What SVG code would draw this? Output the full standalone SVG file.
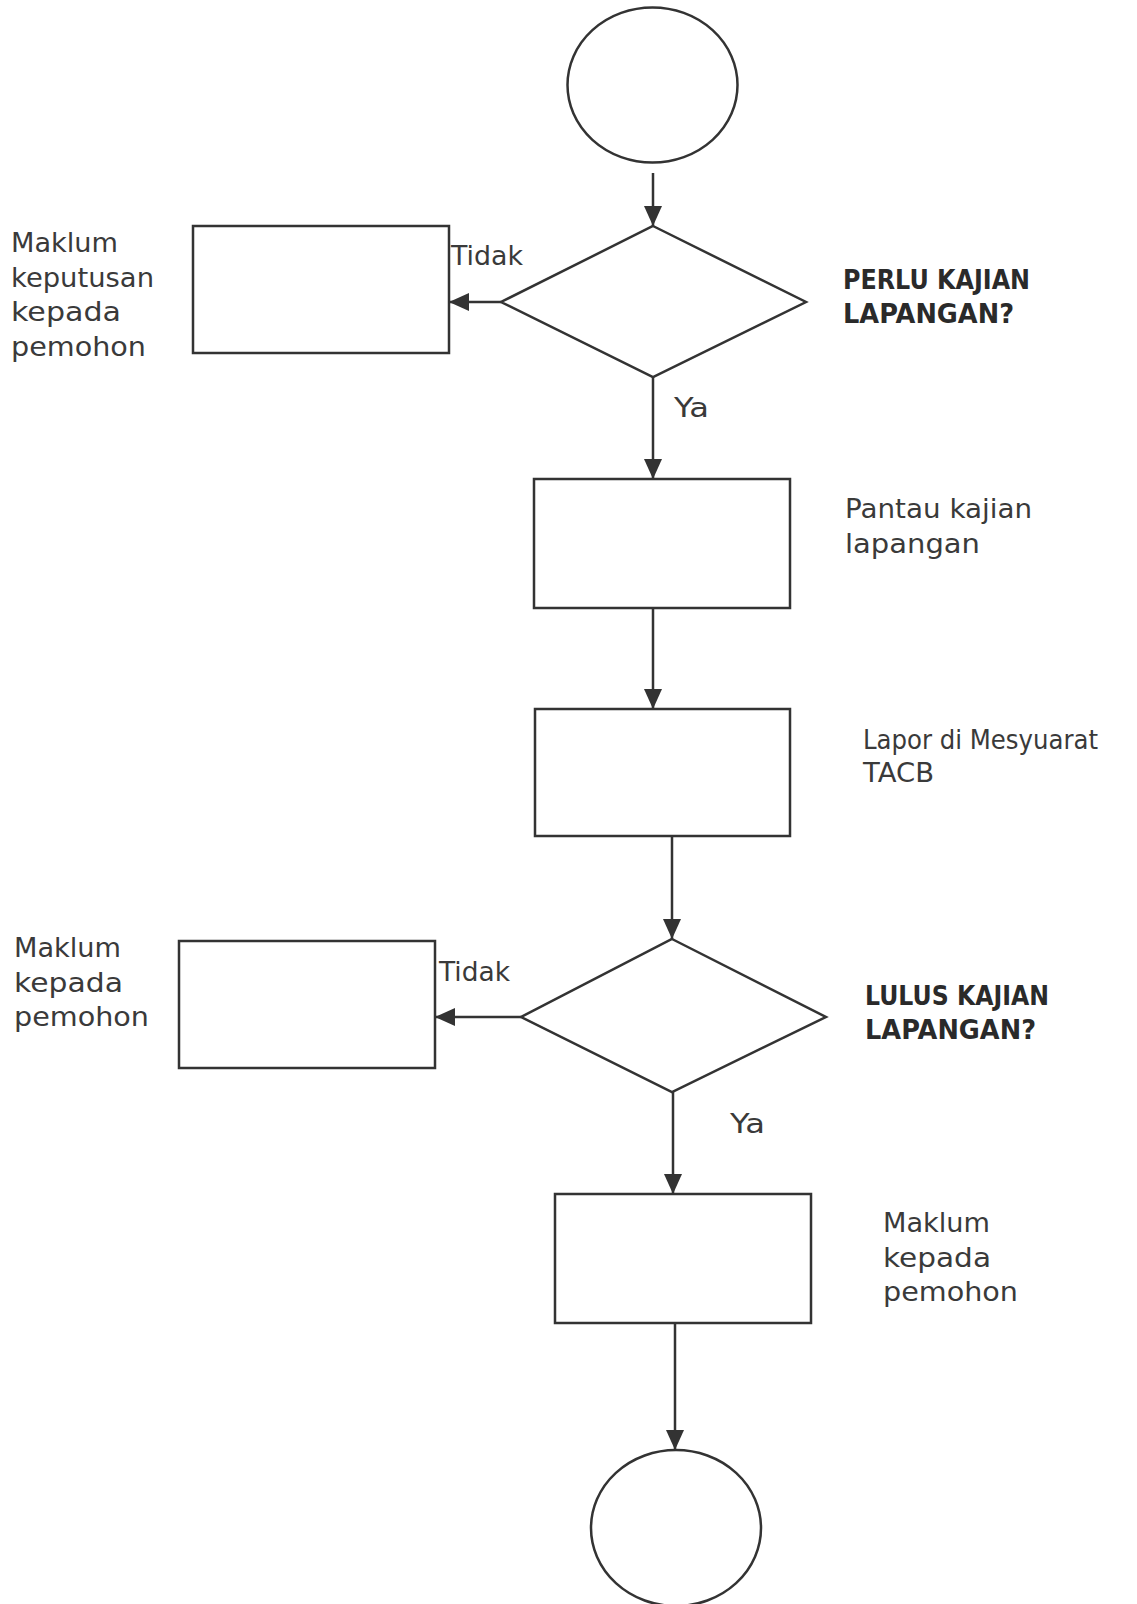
<svg xmlns="http://www.w3.org/2000/svg" width="1137" height="1604" viewBox="0 0 1137 1604">
  <style>
    .shape { fill: #ffffff; stroke: #333333; stroke-width: 2.5; }
    .conn { fill: none; stroke: #333333; stroke-width: 2.5; }
    .lbl { font-family: "DejaVu Sans", "Liberation Sans", sans-serif; font-size: 27px; fill: #3a3a3a; }
    .q { font-family: "DejaVu Sans", "Liberation Sans", sans-serif; font-size: 26px; font-weight: bold; fill: #2a2a2a; }
  </style>
  <defs>
    <marker id="arrow" markerUnits="userSpaceOnUse" markerWidth="20" markerHeight="18" refX="20" refY="9" orient="auto">
      <path d="M0,0 L20,9 L0,18 Z" fill="#333333"/>
    </marker>
  </defs>
  <rect width="1137" height="1604" fill="#ffffff"/>

  <g id="start">
    <ellipse class="shape" cx="652.5" cy="85" rx="85" ry="77.5"/>
  </g>

  <g id="decision1">
    <polygon class="shape" points="653,226 806,302 653,377 501,302"/>
    <text class="q" x="843" y="289" textLength="187" lengthAdjust="spacingAndGlyphs">PERLU KAJIAN</text>
    <text class="q" x="843" y="323" textLength="171" lengthAdjust="spacingAndGlyphs">LAPANGAN?</text>
  </g>

  <g id="notify1">
    <rect class="shape" x="193" y="226" width="256" height="127"/>
    <text class="lbl" x="11" y="252" textLength="107" lengthAdjust="spacingAndGlyphs">Maklum</text>
    <text class="lbl" x="11" y="287" textLength="143" lengthAdjust="spacingAndGlyphs">keputusan</text>
    <text class="lbl" x="11" y="321" textLength="110" lengthAdjust="spacingAndGlyphs">kepada</text>
    <text class="lbl" x="11" y="356" textLength="135" lengthAdjust="spacingAndGlyphs">pemohon</text>
  </g>

  <g id="monitor">
    <rect class="shape" x="534" y="479" width="256" height="129"/>
    <text class="lbl" x="845" y="518" textLength="187" lengthAdjust="spacingAndGlyphs">Pantau kajian</text>
    <text class="lbl" x="845" y="553" textLength="135" lengthAdjust="spacingAndGlyphs">lapangan</text>
  </g>

  <g id="report">
    <rect class="shape" x="535" y="709" width="255" height="127"/>
    <text class="lbl" x="863" y="749" textLength="235" lengthAdjust="spacingAndGlyphs">Lapor di Mesyuarat</text>
    <text class="lbl" x="863" y="782" textLength="71" lengthAdjust="spacingAndGlyphs">TACB</text>
  </g>

  <g id="decision2">
    <polygon class="shape" points="672,939 826,1017 672,1092 521,1017"/>
    <text class="q" x="865" y="1005" textLength="184" lengthAdjust="spacingAndGlyphs">LULUS KAJIAN</text>
    <text class="q" x="865" y="1039" textLength="171" lengthAdjust="spacingAndGlyphs">LAPANGAN?</text>
  </g>

  <g id="notify2">
    <rect class="shape" x="179" y="941" width="256" height="127"/>
    <text class="lbl" x="14" y="957" textLength="107" lengthAdjust="spacingAndGlyphs">Maklum</text>
    <text class="lbl" x="14" y="992" textLength="109" lengthAdjust="spacingAndGlyphs">kepada</text>
    <text class="lbl" x="14" y="1026" textLength="135" lengthAdjust="spacingAndGlyphs">pemohon</text>
  </g>

  <g id="notify3">
    <rect class="shape" x="555" y="1194" width="256" height="129"/>
    <text class="lbl" x="883" y="1232" textLength="107" lengthAdjust="spacingAndGlyphs">Maklum</text>
    <text class="lbl" x="883" y="1267" textLength="108" lengthAdjust="spacingAndGlyphs">kepada</text>
    <text class="lbl" x="883" y="1301" textLength="135" lengthAdjust="spacingAndGlyphs">pemohon</text>
  </g>

  <g id="end">
    <ellipse class="shape" cx="676" cy="1528" rx="85" ry="78"/>
  </g>

  <g id="connectors">
    <line class="conn" x1="653" y1="173" x2="653" y2="226" marker-end="url(#arrow)"/>
    <line class="conn" x1="501" y1="302" x2="449" y2="302" marker-end="url(#arrow)"/>
    <line class="conn" x1="653" y1="377" x2="653" y2="479" marker-end="url(#arrow)"/>
    <line class="conn" x1="653" y1="608" x2="653" y2="709" marker-end="url(#arrow)"/>
    <line class="conn" x1="672" y1="836" x2="672" y2="939" marker-end="url(#arrow)"/>
    <line class="conn" x1="521" y1="1017" x2="435" y2="1017" marker-end="url(#arrow)"/>
    <line class="conn" x1="673" y1="1092" x2="673" y2="1194" marker-end="url(#arrow)"/>
    <line class="conn" x1="675" y1="1323" x2="675" y2="1450" marker-end="url(#arrow)"/>
    <text class="lbl" x="451" y="265" textLength="72" lengthAdjust="spacingAndGlyphs">Tidak</text>
    <text class="lbl" x="674" y="417" textLength="35" lengthAdjust="spacingAndGlyphs">Ya</text>
    <text class="lbl" x="439" y="981" textLength="71" lengthAdjust="spacingAndGlyphs">Tidak</text>
    <text class="lbl" x="730" y="1133" textLength="35" lengthAdjust="spacingAndGlyphs">Ya</text>
  </g>
</svg>
